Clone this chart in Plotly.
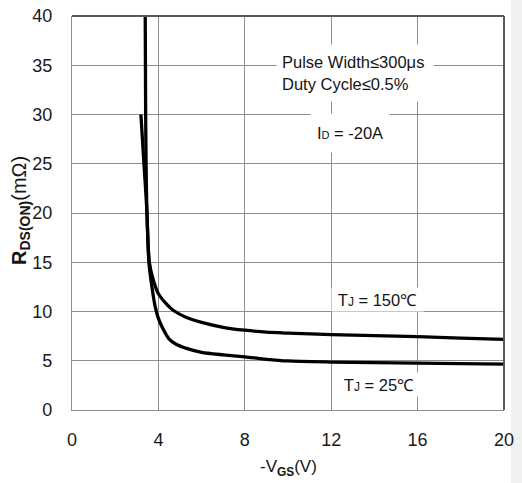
import plotly.graph_objects as go

# ---- data ----
vgs_150 = [3.39, 3.40, 3.41, 3.43, 3.47, 3.58, 3.75, 4.0, 4.4, 4.7, 5.3, 6.0, 7.0, 8.0, 9.0, 10.0, 12.0, 14.0, 16.0, 18.0, 20.0]
rds_150 = [40.0, 35.0, 30.0, 25.0, 20.0, 15.0, 13.3, 11.8, 10.7, 10.1, 9.4, 8.9, 8.4, 8.1, 7.9, 7.8, 7.65, 7.55, 7.45, 7.3, 7.18]

vgs_25 = [3.19, 3.33, 3.42, 3.47, 3.56, 3.70, 3.85, 4.0, 4.2, 4.5, 4.8, 5.3, 6.0, 7.0, 8.0, 9.0, 10.0, 12.0, 14.0, 16.0, 18.0, 20.0]
rds_25 = [30.0, 25.0, 22.0, 20.0, 15.0, 12.5, 10.5, 9.3, 8.3, 7.2, 6.7, 6.25, 5.85, 5.6, 5.4, 5.15, 4.98, 4.87, 4.8, 4.76, 4.7, 4.65]

x_ticks = [0, 4, 8, 12, 16, 20]
y_ticks = [0, 5, 10, 15, 20, 25, 30, 35, 40]

FONT = "Liberation Sans, Arial, sans-serif"
GRID = "#8e8e8e"

fig = go.Figure()
for xs, ys in [(vgs_150, rds_150), (vgs_25, rds_25)]:
    fig.add_trace(go.Scatter(x=xs, y=ys, mode="lines",
                             line=dict(color="#000000", width=3.3, shape="spline", smoothing=0.7),
                             showlegend=False, hoverinfo="skip"))

L, T, W, H = 72, 16, 432, 394
def px(X):
    return (X - L) / W
def py(Y):
    return (T + H - Y) / H

fig.update_layout(
    width=522, height=483,
    margin=dict(l=72, r=18, t=16, b=73, pad=0, autoexpand=False),
    paper_bgcolor="white", plot_bgcolor="white",
    xaxis=dict(range=[0, 20], tickvals=x_ticks, ticktext=[str(v) for v in x_ticks],
               showgrid=True, gridcolor=GRID, gridwidth=1.2, zeroline=False,
               showline=True, linecolor=GRID, linewidth=1.2, ticks="", automargin=False,
               ticklabelstandoff=13,
               tickfont=dict(family=FONT, size=18, color="#1a1a1a"), fixedrange=True),
    yaxis=dict(range=[0, 40], tickvals=y_ticks, ticktext=[str(v) for v in y_ticks],
               showgrid=True, gridcolor=GRID, gridwidth=1.2, zeroline=False,
               showline=True, linecolor=GRID, linewidth=1.2, ticks="", automargin=False,
               ticklabelstandoff=15,
               tickfont=dict(family=FONT, size=18, color="#1a1a1a"), fixedrange=True),
)

# darker top / right frame
fig.add_shape(type="line", xref="paper", yref="paper", x0=0, x1=1, y0=1, y1=1,
              line=dict(color="#5a5a5a", width=2))
fig.add_shape(type="line", xref="paper", yref="paper", x0=1, x1=1, y0=0, y1=1,
              line=dict(color="#5a5a5a", width=2))
# light grey strip at right edge
fig.add_shape(type="rect", xref="paper", yref="paper", x0=px(511), x1=px(530),
              y0=py(500), y1=py(-10), fillcolor="#f0f0f0", line=dict(width=0), layer="below")

txt = dict(family=FONT, size=16.5, color="#151515")

fig.add_annotation(xref="paper", yref="paper", x=px(276), y=py(72.5), xanchor="left", yanchor="middle",
                   text="Pulse Width≤300μs<br>Duty Cycle≤0.5%", align="left", showarrow=False,
                   font=txt, bgcolor="white", borderpad=5, width=146, height=46)
fig.add_annotation(xref="paper", yref="paper", x=px(350), y=py(133), xanchor="center", yanchor="middle",
                   text="I<span style='font-size:11px'>D</span> = -20A", showarrow=False,
                   font=txt, bgcolor="white", borderpad=0, width=78, height=38)
fig.add_annotation(xref="paper", yref="paper", x=px(377.5), y=py(299.5), xanchor="center", yanchor="middle",
                   text="T<span style='font-size:12px'>J</span> = 150℃", showarrow=False,
                   font=txt, bgcolor="white", borderpad=0, width=91, height=23)
fig.add_annotation(xref="paper", yref="paper", x=px(378.5), y=py(384), xanchor="center", yanchor="middle",
                   text="T<span style='font-size:12px'>J</span> = 25℃", showarrow=False,
                   font=txt, bgcolor="white", borderpad=0, width=80, height=23)

# axis titles
fig.add_annotation(xref="paper", yref="paper", x=px(288), y=py(468), xanchor="center", yanchor="middle",
                   text="-V<sub><b>GS</b></sub>(V)", showarrow=False,
                   font=dict(family=FONT, size=17, color="#151515"))
fig.add_annotation(xref="paper", yref="paper", x=px(20), y=py(211), xanchor="center", yanchor="middle",
                   text="<b>R</b><sub><b>DS(ON)</b></sub>(mΩ)", textangle=-90, showarrow=False,
                   font=dict(family=FONT, size=20, color="#151515"))

fig.write_html("out.html")
